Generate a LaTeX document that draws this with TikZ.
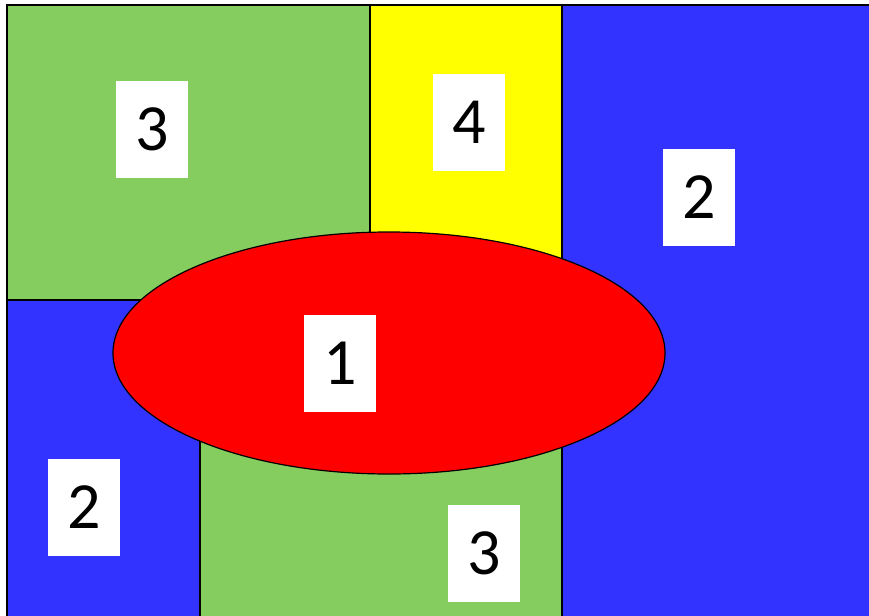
\documentclass[tikz,border=0pt]{standalone}
\usepackage{fontspec}
\setmainfont{Carlito}
\usetikzlibrary{shapes.geometric}
\definecolor{cgreen}{HTML}{84CD5E}
\definecolor{cblue}{HTML}{3333FF}
\definecolor{cyellow}{HTML}{FFFF00}
\definecolor{cred}{HTML}{FF0000}
\tikzset{
  region/.style={draw=black, line width=1.5pt},
  lbl/.style={fill=white, minimum width=72pt, minimum height=97pt, inner sep=0pt,
    font=\fontsize{66}{66}\selectfont, text=black}
}
\begin{document}
\begin{tikzpicture}[x=1pt,y=-1pt]
\useasboundingbox (0,0) rectangle (869,615);
\fill[white] (0,0) rectangle (869,615);
\begin{scope}
\clip (0,0) rectangle (869,615);
\draw[region, fill=cgreen] (7,5) rectangle (370,300);
\draw[region, fill=cyellow] (370,5) rectangle (562,300);
\draw[region, fill=cblue] (562,5) rectangle (880,630);
\draw[region, fill=cblue] (7,300) rectangle (200,630);
\draw[region, fill=cgreen] (200,300) rectangle (562,630);
\node[region, fill=cred, ellipse, minimum width=552pt, minimum height=242pt, inner sep=0pt, line width=1.2pt] (e) at (389,353) {};
\end{scope}
\node[lbl] (l3a) at (152,129.5) {3};
\node[lbl] (l4) at (469,122.5) {4};
\node[lbl] (l2a) at (699,197.5) {2};
\node[lbl] (l1) at (340,363.5) {1};
\node[lbl] (l2b) at (84,507.5) {2};
\node[lbl] (l3b) at (484,553.5) {3};
\end{tikzpicture}
\end{document}
